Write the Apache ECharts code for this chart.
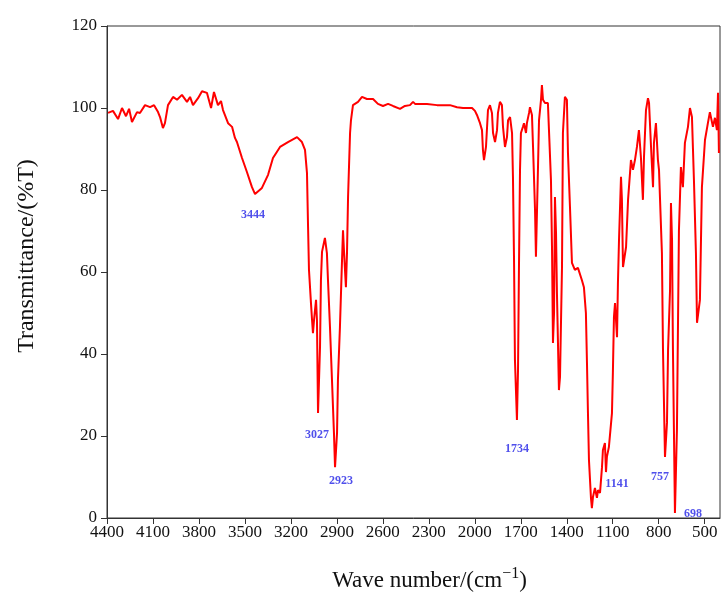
<!DOCTYPE html>
<html>
<head>
<meta charset="utf-8">
<title>FTIR spectrum</title>
<script src="https://cdn.jsdelivr.net/npm/echarts@6/dist/echarts.min.js"></script>
<style>
  html, body { margin: 0; padding: 0; background: #fff; }
  #chart { width: 721px; height: 597px; }
</style>
</head>
<body>
<div id="chart"></div>
<script>
// wavenumber (cm-1) and transmittance (%T)
const waveNumber = [
  4393, 4361, 4328, 4302, 4276, 4256, 4237, 4204, 4185, 4152, 4119, 4093, 4067, 4054, 4035, 4022,
  4002, 3969, 3943, 3911, 3878, 3858, 3839, 3806, 3780, 3748, 3721, 3702, 3676, 3656, 3643, 3610,
  3584, 3565, 3552, 3519, 3487, 3454, 3434, 3389, 3349, 3317, 3271, 3219, 3160, 3128, 3108, 3095,
  3088, 3082, 3069, 3062, 3056, 3049, 3036, 3030, 3023, 3010, 3004, 2997, 2978, 2965, 2958, 2945,
  2932, 2919, 2912, 2899, 2893, 2880, 2867, 2860, 2854, 2841, 2834, 2827, 2814, 2808, 2795, 2762,
  2736, 2704, 2664, 2632, 2599, 2566, 2534, 2488, 2456, 2423, 2403, 2390, 2312, 2247, 2162, 2116,
  2077, 2018, 1999, 1986, 1966, 1953, 1947, 1940, 1927, 1914, 1901, 1888, 1881, 1868, 1855, 1849,
  1836, 1823, 1816, 1803, 1790, 1783, 1770, 1757, 1751, 1744, 1738, 1725, 1718, 1712, 1705, 1699,
  1686, 1679, 1666, 1660, 1646, 1640, 1627, 1620, 1607, 1601, 1594, 1588, 1581, 1568, 1562, 1555,
  1542, 1523, 1516, 1503, 1496, 1490, 1483, 1477, 1470, 1464, 1451, 1444, 1431, 1425, 1412, 1399,
  1392, 1379, 1366, 1347, 1327, 1301, 1288, 1275, 1268, 1262, 1255, 1242, 1236, 1229, 1216, 1203,
  1196, 1183, 1170, 1164, 1151, 1144, 1138, 1125, 1105, 1099, 1092, 1085, 1072, 1066, 1059, 1046,
  1040, 1033, 1013, 1000, 981, 968, 955, 942, 929, 916, 903, 896, 883, 870, 863, 850,
  837, 831, 818, 805, 798, 779, 772, 759, 746, 739, 726, 720, 713, 707, 694, 681,
  668, 655, 642, 629, 609, 596, 583, 570, 557, 550, 531, 518, 498, 479, 466, 446,
  433, 420, 413, 407
]
const transmittance = [
  98.8, 99.3, 97.3, 100, 98, 99.8, 96.6, 99, 98.8, 100.7, 100.2, 100.7, 99, 97.8, 95.1, 96.3,
  100.7, 102.7, 102, 103.2, 101.5, 102.7, 100.7, 102.4, 104.1, 103.7, 100, 103.9, 100.7, 101.7, 99.5, 96.3,
  95.4, 92.7, 91.7, 87.8, 84.4, 80.7, 79.0, 80.5, 83.7, 87.8, 90.5, 91.7, 92.9, 91.7, 89.8, 84.1,
  71, 60.5, 52.4, 48.3, 45.1, 48.3, 53.2, 48.3, 25.6, 41.7, 58, 64.9, 68.3, 64.6, 58, 46.6,
  33.7, 20.7, 12.4, 20.7, 33.7, 46.6, 62.2, 70.2, 65.4, 56.3, 64.6, 78.3, 93.9, 97, 100.7, 101.5,
  102.7, 102.2, 102.2, 101, 100.5, 101, 100.5, 99.8, 100.5, 100.7, 101.5, 101, 101, 100.7, 100.7, 100.2,
  100, 100, 99.3, 98.3, 96.3, 94.6, 89.8, 87.3, 90.5, 99.5, 100.7, 98.8, 93.9, 91.7, 94.6, 98.8,
  101.5, 100.7, 95.4, 90.5, 92.9, 97, 97.8, 93.9, 83.2, 62.9, 38.5, 23.9, 36.1, 60.5, 84.9, 93.9,
  95.4, 96.3, 93.9, 96.3, 98.8, 100.2, 98.3, 90.5, 75.1, 63.7, 63.7, 84.9, 97, 102, 105.6, 102,
  101.2, 101.2, 94.6, 82.4, 65.4, 42.7, 50, 78.3, 69.5, 54.9, 31.2, 34.4, 61.2, 93.9, 102.7, 102,
  89, 75.9, 62.2, 60.5, 61, 58, 56.3, 50, 37.8, 26.3, 14.1, 4.9, 2.4, 5.1, 7.3, 4.9,
  6.8, 6.1, 12.4, 16.6, 18.3, 11.2, 14.9, 17.3, 25.6, 35.4, 49, 52.4, 44.1, 57.3, 67.8, 83.2,
  77.6, 61.2, 66.1, 77.6, 87.3, 84.9, 87.3, 90.5, 94.6, 88, 77.6, 88, 99.5, 102.4, 101.2, 90.5,
  80.7, 91.5, 96.3, 87.3, 84.9, 64.6, 41, 14.9, 23.2, 41, 55.6, 76.8, 67.8, 41, 1.2, 21.5,
  70, 85.6, 80.7, 91.5, 95.4, 100, 97.8, 82.4, 64.6, 47.6, 53.2, 80.7, 92.2, 96.3, 99, 95.4,
  97.6, 94.6, 103.7, 89
]

// peak annotations: text, and where the text sits (data coords)
const peakNames = ['3444', '3027', '2923', '1734', '1141', '757', '698']
const peakLabelX = [3447, 3030, 2873, 1725, 1072, 792, 576]
const peakLabelY = [73.9, 20.2, 9.0, 16.8, 8.3, 10.0, 1.0]

// axis ticks
const xTicks = [4400, 4100, 3800, 3500, 3200, 2900, 2600, 2300, 2000, 1700, 1400, 1100, 800, 500]
const xMin = 400
const xMax = 4400
const yMin = 0
const yMax = 120
const yStep = 20

const chart = echarts.init(document.getElementById('chart'))
const serif = '"Liberation Serif", "DejaVu Serif", serif'
const axisColor = '#333'

chart.setOption({
  animation: false,
  grid: {
    left: 107,
    right: 1,
    top: 26,
    bottom: 79,
    show: true,
    borderColor: axisColor,
    borderWidth: 1
  },
  xAxis: {
    type: 'value',
    inverse: true,
    min: xMin,
    max: xMax,
    name: 'Wave number/(cm{sup|\u22121})',
    nameLocation: 'middle',
    nameGap: 48,
    nameTextStyle: {
      fontFamily: serif,
      fontSize: 23,
      color: '#111',
      // text sits a bit right of the plot centre in the original
      padding: [0, 0, 0, 32],
      rich: {
        sup: { fontFamily: serif, fontSize: 16, color: '#111', padding: [0, 0, 13, 0] }
      }
    },
    axisLine: { lineStyle: { color: axisColor, width: 1 } },
    axisTick: { customValues: xTicks, length: 6, lineStyle: { color: axisColor } },
    axisLabel: {
      customValues: xTicks,
      formatter: v => String(v),
      fontFamily: serif,
      fontSize: 17,
      color: '#111',
      margin: 6
    },
    splitLine: { show: false }
  },
  yAxis: {
    type: 'value',
    min: yMin,
    max: yMax,
    interval: yStep,
    name: 'Transmittance/(%T)',
    nameLocation: 'middle',
    nameGap: 68,
    nameTextStyle: {
      fontFamily: serif,
      fontSize: 24,
      color: '#111',
      // shifted a little upwards like the original
      padding: [0, 0, 0, 32]
    },
    axisLine: { show: true, lineStyle: { color: axisColor, width: 1 } },
    axisTick: { show: true, length: 6, lineStyle: { color: axisColor } },
    axisLabel: { fontFamily: serif, fontSize: 17, color: '#111', margin: 10 },
    splitLine: { show: false }
  },
  series: [
    {
      name: 'spectrum',
      type: 'line',
      showSymbol: false,
      symbol: 'none',
      lineStyle: { color: '#ff0000', width: 2 },
      data: waveNumber.map((w, i) => [w, transmittance[i]])
    },
    {
      name: 'peaks',
      type: 'scatter',
      symbolSize: 0,
      silent: true,
      label: {
        show: true,
        position: 'inside',
        formatter: p => peakNames[p.dataIndex],
        fontFamily: serif,
        fontWeight: 'bold',
        fontSize: 12,
        color: '#2323e6'
      },
      data: peakLabelX.map((x, i) => [x, peakLabelY[i]])
    }
  ]
})
</script>
</body>
</html>
